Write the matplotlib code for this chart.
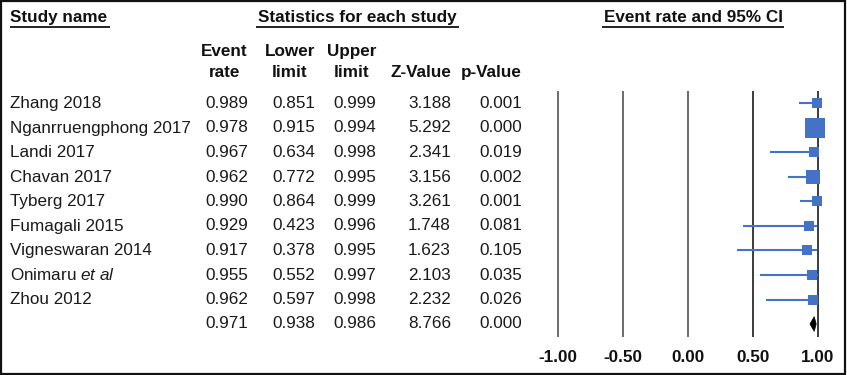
import numpy as np
import matplotlib
matplotlib.use("Agg")
from matplotlib import pyplot as plt
from matplotlib.patches import Rectangle, Polygon

plt.rcParams['font.family'] = ['Liberation Sans', 'DejaVu Sans']
plt.rcParams['mathtext.fontset'] = 'custom'
plt.rcParams['mathtext.rm'] = 'Liberation Sans'
plt.rcParams['mathtext.it'] = 'Liberation Sans:italic'

studies = ["Zhang 2018", "Nganrruengphong 2017", "Landi 2017", "Chavan 2017",
           "Tyberg 2017", "Fumagali 2015", "Vigneswaran 2014",
           r"Onimaru $\mathit{et\ al}$", "Zhou 2012"]
event_rate = [0.989, 0.978, 0.967, 0.962, 0.990, 0.929, 0.917, 0.955, 0.962]
lower = [0.851, 0.915, 0.634, 0.772, 0.864, 0.423, 0.378, 0.552, 0.597]
upper = [0.999, 0.994, 0.998, 0.995, 0.999, 0.996, 0.995, 0.997, 0.998]
z_value = [3.188, 5.292, 2.341, 3.156, 3.261, 1.748, 1.623, 2.103, 2.232]
p_value = [0.001, 0.000, 0.019, 0.002, 0.001, 0.081, 0.105, 0.035, 0.026]
rel_weight = [8.3, 30.0, 8.3, 16.3, 8.3, 6.8, 6.8, 6.8, 8.3]  # relative weight (%)

summary = {"rate": 0.971, "lower": 0.938, "upper": 0.986, "z": 8.766, "p": 0.000}

axis_ticks = [-1.0, -0.5, 0.0, 0.5, 1.0]

W, H = 847, 375
fig = plt.figure(figsize=(W / 100, H / 100), dpi=100)

# layout axes in pixel units for the table part
bg = fig.add_axes([0, 0, 1, 1])
bg.set_xlim(0, W)
bg.set_ylim(H, 0)
bg.axis('off')

fs = 12.3
row0, step = 103.5, 24.5
txt_col = '#1a1a1a'
hdr_col = '#111111'

# titles with underline
bg.text(10, 17.5, "Study name", ha='left', va='center', fontsize=fs, fontweight='bold', color=hdr_col)
bg.text(357, 17.5, "Statistics for each study", ha='center', va='center', fontsize=fs,
        fontweight='bold', color=hdr_col)
bg.text(693, 17.5, "Event rate and 95% CI", ha='center', va='center', fontsize=fs,
        fontweight='bold', color=hdr_col)
for x0, x1 in [(10, 110), (256, 459), (602, 784)]:
    bg.plot([x0, x1], [26.5, 26.5], color=hdr_col, lw=1.3, solid_capstyle='butt')

# column headers (right aligned blocks)
col_right = [248, 315, 376, 451, 522]
for c, lab in enumerate(["Event\nrate", "Lower\nlimit", "Upper\nlimit"]):
    bg.text(col_right[c], 62, lab, ha='right', va='center', multialignment='center',
            fontsize=fs, fontweight='bold', color=hdr_col, linespacing=1.42)
bg.text(col_right[3], 72.5, "Z-Value", ha='right', va='center', fontsize=fs,
        fontweight='bold', color=hdr_col)
bg.text(col_right[4], 72.5, "p-Value", ha='right', va='center', fontsize=fs,
        fontweight='bold', color=hdr_col)

cols = [event_rate, lower, upper, z_value, p_value]
for i, name in enumerate(studies):
    y = row0 + i * step
    bg.text(10, y, name, ha='left', va='center', fontsize=fs, color=txt_col)
    for c, vals in enumerate(cols):
        bg.text(col_right[c], y, f"{vals[i]:.3f}", ha='right', va='center',
                fontsize=fs, color=txt_col)
ys = row0 + len(studies) * step
for c, key in enumerate(["rate", "lower", "upper", "z", "p"]):
    bg.text(col_right[c], ys, f"{summary[key]:.3f}", ha='right', va='center',
            fontsize=fs, color=txt_col)

# forest plot axes
px_per_unit = 130.0
ax_l, ax_r, ax_t, ax_b = 540, 843, 91, 337
ax = fig.add_axes([ax_l / W, 1 - ax_b / H, (ax_r - ax_l) / W, (ax_b - ax_t) / H])
ax.set_xlim(-1 - (558 - ax_l) / px_per_unit, 1 + (ax_r - 818) / px_per_unit)
ax.set_ylim((ax_b - row0) / step, (ax_t - row0) / step)
ax.patch.set_alpha(0)
for s in ax.spines.values():
    s.set_visible(False)

for t in axis_ticks:
    ax.axvline(t, color='#6a6a6a' if t < 0.5 else '#3c3c3c', lw=1.4, zorder=1)

blue = '#4472C4'
rows = np.arange(len(studies))
for i in rows:
    ax.plot([lower[i], upper[i]], [i, i], color=blue, lw=1.5, zorder=2,
            solid_capstyle='butt')
    side_px = 3.6 * np.sqrt(rel_weight[i])
    ax.plot(event_rate[i], i, marker='s', color=blue, markersize=side_px * 0.72,
            markeredgewidth=0, zorder=3, clip_on=False)

si = len(studies)
hh = 0.3
ax.add_patch(Polygon([[summary["lower"], si], [summary["rate"], si - hh],
                      [summary["upper"], si], [summary["rate"], si + hh]],
                     closed=True, facecolor='black', edgecolor='black', lw=0.5, zorder=3))

ax.set_yticks([])
ax.set_xticks(axis_ticks)
ax.set_xticklabels([f"{t:.2f}" for t in axis_ticks], fontsize=fs, fontweight='bold',
                   color=hdr_col)
ax.tick_params(axis='x', length=0, pad=9)

# outer frame
fig.patches.append(Rectangle((0.001, 0.002), 0.997, 0.995, transform=fig.transFigure,
                             fill=False, edgecolor=hdr_col, lw=1.6))

fig.savefig("out.png", dpi=100)
